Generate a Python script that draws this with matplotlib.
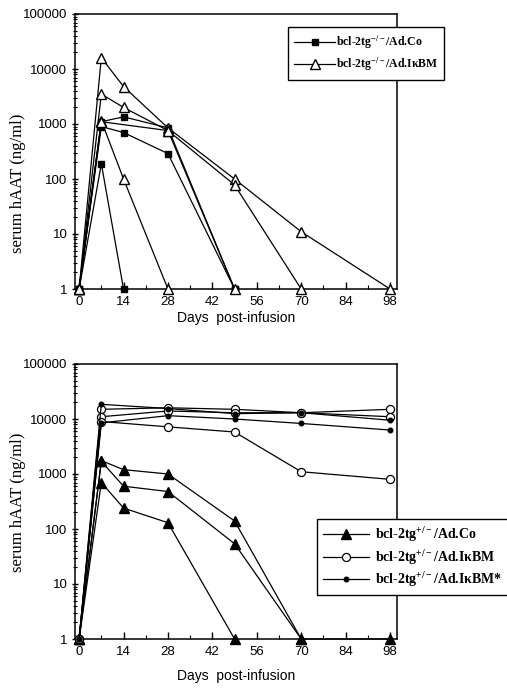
import matplotlib
matplotlib.use("Agg")
import matplotlib.pyplot as plt
from matplotlib.ticker import LogLocator, NullFormatter, FixedLocator, FuncFormatter
from matplotlib.lines import Line2D

# ---------------- data ----------------
days_ticks = [0, 14, 28, 42, 56, 70, 84, 98]

# top panel: bcl-2tg-/-  (squares = Ad.Co, open triangles = Ad.IkBM)
top_sq_days = [[0, 7, 14], [0, 7, 14, 28, 49], [0, 7, 14, 28, 49]]
top_sq_vals = [[1, 190, 1], [1, 900, 700, 290, 1], [1, 1100, 1350, 850, 1]]

top_tri_days = [[0, 7, 14, 28, 49, 70, 98], [0, 7, 14, 28, 49, 70], [0, 7, 14, 28], [0, 7, 28, 49]]
top_tri_vals = [[1, 16000, 4800, 850, 100, 11, 1], [1, 3500, 2000, 760, 78, 1], [1, 1150, 100, 1], [1, 1100, 760, 1]]

# bottom panel: bcl-2tg+/-
bot_tri_days = [[0, 7, 14, 28, 49, 70, 98], [0, 7, 14, 28, 49, 70], [0, 7, 14, 28, 49]]
bot_tri_vals = [[1, 1750, 1200, 1000, 140, 1, 1], [1, 1700, 600, 480, 54, 1], [1, 700, 240, 130, 1]]

bot_oc_days = [[0, 7, 28, 49, 70, 98], [0, 7, 28, 49, 70, 98], [0, 7, 28, 49, 70, 98]]
bot_oc_vals = [[1, 15000, 16000, 15000, 13000, 15000],
               [1, 11000, 14000, 13000, 13000, 11000],
               [1, 9000, 7200, 5800, 1100, 800]]

bot_fc_days = [[0, 7, 28, 49, 70, 98], [0, 7, 28, 49, 70, 98]]
bot_fc_vals = [[1, 18500, 15500, 12500, 13000, 9500],
               [1, 8500, 11500, 10000, 8300, 6300]]

top_labels = [r"bcl-2tg$^{-/-}$/Ad.Co", r"bcl-2tg$^{-/-}$/Ad.I$\kappa$BM"]
bot_labels = [r"bcl-2tg$^{+/-}$/Ad.Co", r"bcl-2tg$^{+/-}$/Ad.I$\kappa$BM", r"bcl-2tg$^{+/-}$/Ad.I$\kappa$BM*"]

# ---------------- style ----------------
plt.rcParams["font.family"] = ["Liberation Sans", "DejaVu Sans"]
plt.rcParams["mathtext.default"] = "regular"
plt.rcParams["mathtext.fontset"] = "custom"
plt.rcParams["mathtext.rm"] = "Liberation Serif:bold"
plt.rcParams["mathtext.it"] = "Liberation Serif:bold"
plt.rcParams["mathtext.bf"] = "Liberation Serif:bold"

W, H = 507, 694
fig = plt.figure(figsize=(W / 100, H / 100), dpi=100)

def fx(px):
    return px / W

def fy(py):
    return 1 - py / H

ax1 = fig.add_axes([fx(75), fy(289), fx(397) - fx(75), fy(14) - fy(289)])
ax2 = fig.add_axes([fx(75), fy(639), fx(397) - fx(75), fy(364) - fy(639)])

lw = 0.9
SQ = dict(marker="s", ms=5, mfc="black", mec="black")
OT = dict(marker="^", ms=6.5, mfc="white", mec="black", mew=1.0)
FT = dict(marker="^", ms=6.5, mfc="black", mec="black")
OC = dict(marker="o", ms=5.8, mfc="white", mec="black", mew=0.9)
FC = dict(marker="o", ms=3.3, mfc="black", mec="black")

for d, v in zip(top_sq_days, top_sq_vals):
    ax1.plot(d, v, color="black", lw=lw, zorder=3, clip_on=False, **SQ)
for d, v in zip(top_tri_days, top_tri_vals):
    ax1.plot(d, v, color="black", lw=lw, zorder=4, clip_on=False, **OT)

for d, v in zip(bot_tri_days, bot_tri_vals):
    ax2.plot(d, v, color="black", lw=lw, zorder=3, clip_on=False, **FT)
for d, v in zip(bot_oc_days, bot_oc_vals):
    ax2.plot(d, v, color="black", lw=lw, zorder=4, clip_on=False, **OC)
for d, v in zip(bot_fc_days, bot_fc_vals):
    ax2.plot(d, v, color="black", lw=lw, zorder=5, clip_on=False, **FC)

def fmt(v, pos):
    return "%d" % int(round(v))

for ax, lab_y, top_px, xlpad in ((ax1, 183, 14, 2), (ax2, 502, 364, 8)):
    ax.set_yscale("log")
    ax.set_ylim(1, 100000)
    ax.set_xlim(-1.3, 100.2)
    ax.xaxis.set_major_locator(FixedLocator(days_ticks))
    ax.xaxis.set_minor_locator(FixedLocator(list(range(7, 100, 14))))
    ax.yaxis.set_major_locator(LogLocator(base=10, numticks=10))
    ax.yaxis.set_minor_locator(LogLocator(base=10, subs=range(2, 10), numticks=20))
    ax.yaxis.set_major_formatter(FuncFormatter(fmt))
    ax.yaxis.set_minor_formatter(NullFormatter())
    ax.tick_params(axis="both", which="major", direction="in", length=5, width=1.0,
                   labelsize=9.5, colors="black")
    ax.tick_params(axis="x", which="major", pad=5)
    ax.tick_params(axis="y", which="major", pad=3)
    ax.tick_params(axis="both", which="minor", direction="in", length=3, width=0.8)
    ax.tick_params(axis="y", which="both", direction="inout")
    for s in ax.spines.values():
        s.set_linewidth(1.1)
        s.set_color("black")
    ax.set_xlabel("Days  post-infusion", fontsize=10, labelpad=xlpad)
    ax.set_ylabel("serum hAAT (ng/ml)", fontsize=12, family="Liberation Serif")
    ax.yaxis.set_label_coords(-0.152, 1 - (lab_y - top_px) / 275.0)

# ---------------- legends ----------------
h_top = [Line2D([], [], color="black", lw=lw, **SQ),
         Line2D([], [], color="black", lw=lw, **OT)]
leg1 = fig.legend(h_top, top_labels, loc="upper left", bbox_to_anchor=(fx(288), fy(27)),
                  frameon=True, fancybox=False, edgecolor="black", framealpha=1,
                  prop={"family": "Liberation Serif", "weight": "bold", "size": 8.5},
                  handlelength=3.4, handletextpad=0.1, borderpad=0.55, labelspacing=0.4,
                  borderaxespad=0)
leg1.get_frame().set_linewidth(1.0)

h_bot = [Line2D([], [], color="black", lw=lw, **FT),
         Line2D([], [], color="black", lw=lw, **OC),
         Line2D([], [], color="black", lw=lw, **FC)]
leg2 = fig.legend(h_bot, bot_labels, loc="upper left", bbox_to_anchor=(fx(317), fy(519)),
                  frameon=True, fancybox=False, edgecolor="black", framealpha=1,
                  prop={"family": "Liberation Serif", "weight": "bold", "size": 10},
                  handlelength=3.3, handletextpad=0.4, borderpad=0.45, labelspacing=0.25,
                  borderaxespad=0)
leg2.get_frame().set_linewidth(1.0)

fig.savefig("out.png", dpi=100)
